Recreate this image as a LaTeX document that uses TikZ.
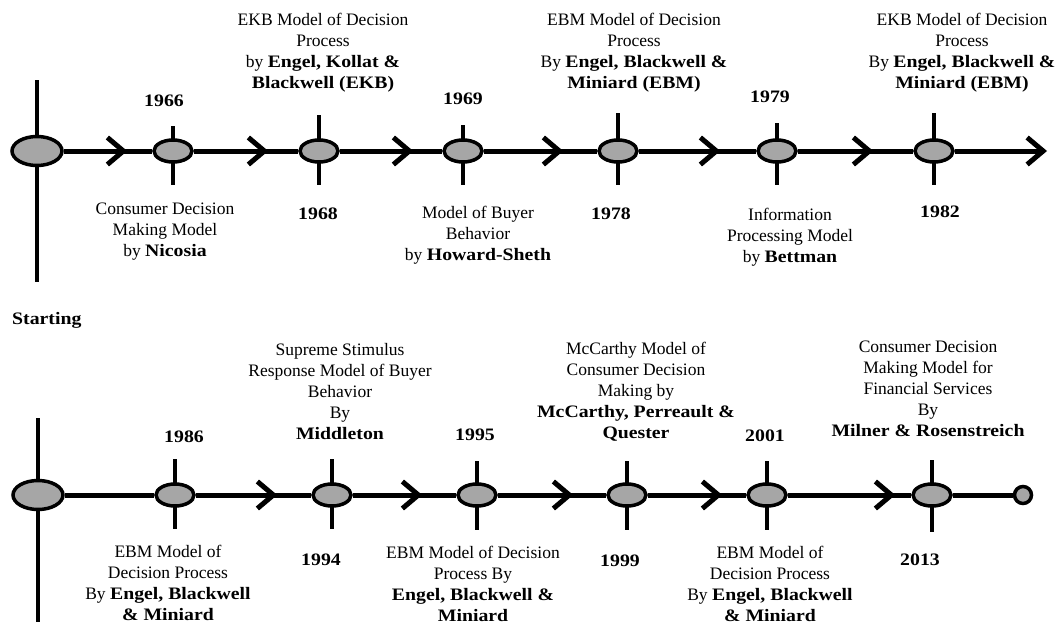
\documentclass[tikz,border=0pt]{standalone}
\usepackage{fontspec}
\setmainfont{Liberation Serif}[BoldFeatures={FakeStretch=1.13}]
\usetikzlibrary{shapes.geometric,arrows.meta,decorations.markings,backgrounds}
\definecolor{dotgray}{HTML}{A6A6A6}
\tikzset{
  chev/.tip={Straight Barb[length=16pt,width=27pt]},
  evt/.style={ellipse, draw, line width=3.5pt, fill=dotgray,
    minimum width=38pt, minimum height=22pt, inner sep=0pt},
  origin/.style={evt, minimum width=50pt, minimum height=29pt},
  tail/.style={circle, draw, line width=3.5pt, fill=dotgray,
    minimum size=17pt, inner sep=0pt},
  axis/.style={line width=5pt},
  tick/.style={line width=4.5pt},
  flow/.style={axis, postaction={decorate},
    decoration={markings, mark=at position #1 with {\arrow{chev}}}},
  lbl/.style={align=center, inner sep=0pt,
    font=\fontsize{17.5}{21}\selectfont},
  yr/.style={lbl, font=\fontsize{17.5}{21}\selectfont\bfseries},
}
\begin{document}
\begin{tikzpicture}[x=1pt,y=-1pt]
\useasboundingbox (0,0) rectangle (1057,626);

% ---------- upper time line ----------
\node[origin] (s1) at (37,151) {};
\node[evt] (t1) at (173,151) {};
\node[evt] (t2) at (319,151) {};
\node[evt] (t3) at (463,151) {};
\node[evt] (t4) at (618,151) {};
\node[evt] (t5) at (777,151) {};
\node[evt] (t6) at (934,151) {};
\coordinate (tend) at (1047,151);

\begin{scope}[on background layer]
  \draw[tick] (s1.center |- 0,80) -- (s1.center |- 0,282);
  \draw[tick] (t1.center |- 0,126) -- (t1.center |- 0,185);
  \draw[tick] (t2.center |- 0,115) -- (t2.center |- 0,185);
  \draw[tick] (t3.center |- 0,125) -- (t3.center |- 0,185);
  \draw[tick] (t4.center |- 0,113) -- (t4.center |- 0,185);
  \draw[tick] (t5.center |- 0,123) -- (t5.center |- 0,185);
  \draw[tick] (t6.center |- 0,113) -- (t6.center |- 0,185);
\end{scope}

\draw[flow=-25pt] (s1) -- (t1);
\draw[flow=-30pt] (t1) -- (t2);
\draw[flow=-29pt] (t2) -- (t3);
\draw[flow=-34pt] (t3) -- (t4);
\draw[flow=-36pt] (t4) -- (t5);
\draw[flow=-40pt] (t5) -- (t6);
\draw[axis,-{chev}] (t6) -- (tend);

% labels above the upper line
\node[yr] (y66) at (164,101) {1966};
\node[lbl] (m68) at (323,53) {EKB Model of Decision\\Process\\by \textbf{Engel, Kollat \&}\\\textbf{Blackwell (EKB)}};
\node[yr] (y69) at (463,99) {1969};
\node[lbl] (m78) at (634,53) {EBM Model of Decision\\Process\\By \textbf{Engel, Blackwell \&}\\\textbf{Miniard (EBM)}};
\node[yr] (y79) at (770,97) {1979};
\node[lbl] (m82) at (962,53) {EKB Model of Decision\\Process\\By \textbf{Engel, Blackwell \&}\\\textbf{Miniard (EBM)}};

% labels below the upper line
\node[lbl] (m66) at (165,232) {Consumer Decision\\Making Model\\by \textbf{Nicosia}};
\node[yr] (y68) at (318,214) {1968};
\node[lbl] (m69) at (478,235) {Model of Buyer\\Behavior\\by \textbf{Howard-Sheth}};
\node[yr] (y78) at (611,214) {1978};
\node[lbl] (m79) at (790,237) {Information\\Processing Model\\by \textbf{Bettman}};
\node[yr] (y82) at (940,212) {1982};

\node[yr, anchor=west] (start) at (12,320) {Starting};

% ---------- lower time line ----------
\node[origin] (s2) at (38,495) {};
\node[evt] (b1) at (175,495) {};
\node[evt] (b2) at (332,495) {};
\node[evt] (b3) at (477,495) {};
\node[evt] (b4) at (627,495) {};
\node[evt] (b5) at (767,495) {};
\node[evt] (b6) at (932,495) {};
\node[tail] (bend) at (1023,495) {};

\begin{scope}[on background layer]
  \draw[tick] (s2.center |- 0,418) -- (s2.center |- 0,622);
  \draw[tick] (b1.center |- 0,459) -- (b1.center |- 0,529);
  \draw[tick] (b2.center |- 0,459) -- (b2.center |- 0,529);
  \draw[tick] (b3.center |- 0,461) -- (b3.center |- 0,530);
  \draw[tick] (b4.center |- 0,461) -- (b4.center |- 0,530);
  \draw[tick] (b5.center |- 0,461) -- (b5.center |- 0,530);
  \draw[tick] (b6.center |- 0,460) -- (b6.center |- 0,532);
\end{scope}

\draw[axis] (s2) -- (b1);
\draw[flow=-34pt] (b1) -- (b2);
\draw[flow=-34pt] (b2) -- (b3);
\draw[flow=-33pt] (b3) -- (b4);
\draw[flow=-24pt] (b4) -- (b5);
\draw[flow=-16pt] (b5) -- (b6);
\draw[axis] (b6) -- (bend);

% labels above the lower line
\node[yr] (y86) at (184,437) {1986};
\node[lbl] (m94) at (340,392) {Supreme Stimulus\\Response Model of Buyer\\Behavior\\By\\\textbf{Middleton}};
\node[yr] (y95) at (475,435) {1995};
\node[lbl] (m99) at (636,392) {McCarthy Model of\\Consumer Decision\\Making by\\\textbf{McCarthy, Perreault \&}\\\textbf{Quester}};
\node[yr] (y01) at (765,436) {2001};
\node[lbl] (m13) at (928,389) {Consumer Decision\\Making Model for\\Financial Services\\By\\\textbf{Milner \& Rosenstreich}};

% labels below the lower line
\node[lbl] (m86) at (168,583) {EBM Model of\\Decision Process\\By \textbf{Engel, Blackwell}\\\textbf{\& Miniard}};
\node[yr] (y94) at (321,560) {1994};
\node[lbl] (m95) at (473,584) {EBM Model of Decision\\Process By\\\textbf{Engel, Blackwell \&}\\\textbf{Miniard}};
\node[yr] (y99) at (620,561) {1999};
\node[lbl] (m01) at (770,584) {EBM Model of\\Decision Process\\By \textbf{Engel, Blackwell}\\\textbf{\& Miniard}};
\node[yr] (y13) at (920,560) {2013};
\end{tikzpicture}
\end{document}
